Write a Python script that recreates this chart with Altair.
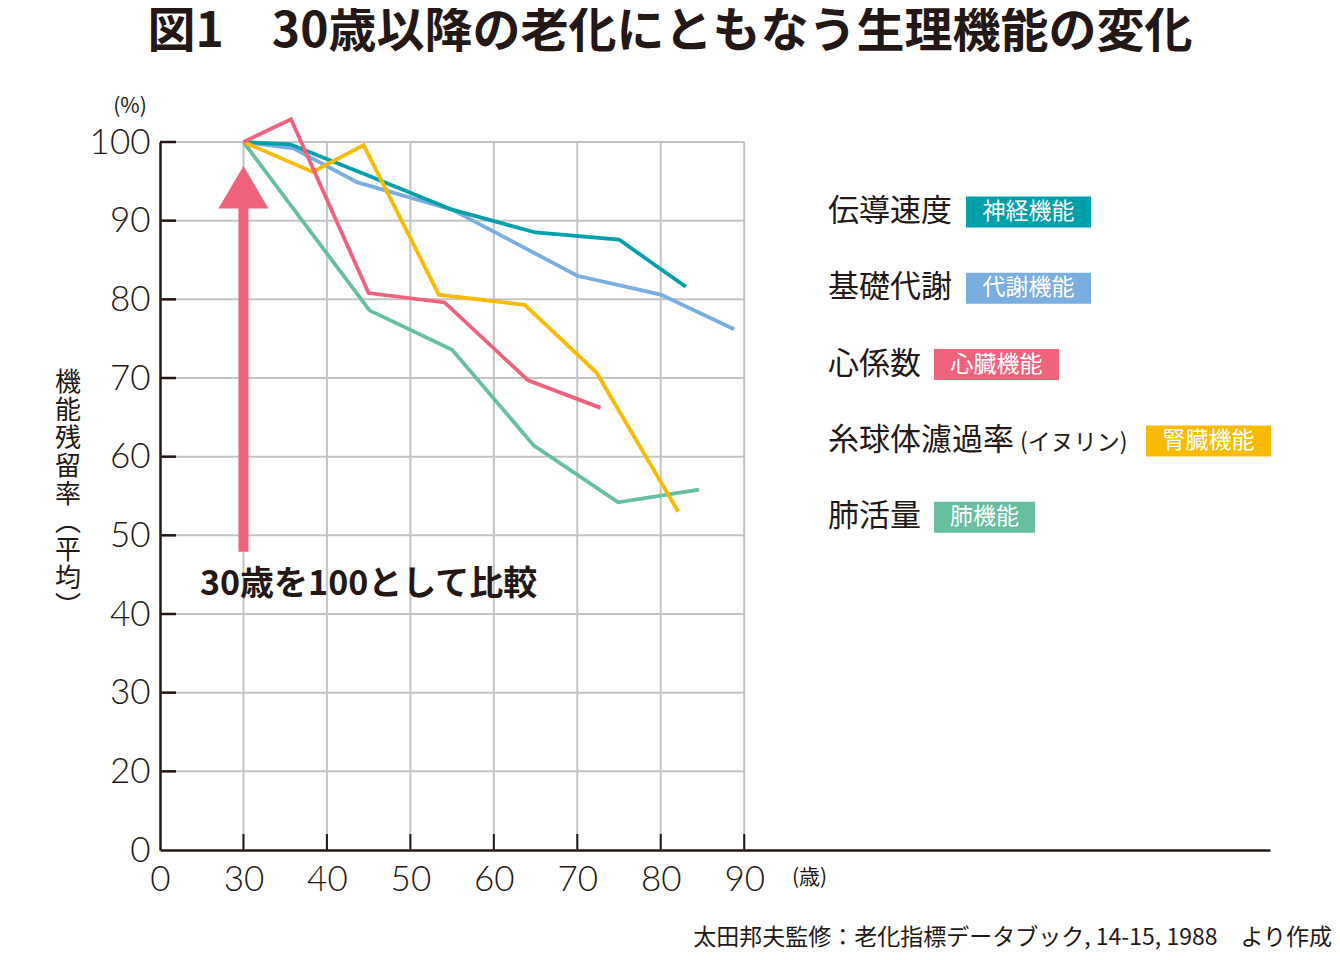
import altair as alt
import pandas as pd

# ---------------- data ----------------
title_text = "図1　30歳以降の老化にともなう生理機能の変化"
source_text = "太田邦夫監修：老化指標データブック, 14-15, 1988　より作成"
note_text = "30歳を100として比較"
y_title_chars = ["機", "能", "残", "留", "率", "︵", "平", "均", "︶"]

x_tick_values = [20, 30, 40, 50, 60, 70, 80, 90]   # 20 is shown as "0" (broken axis)
y_tick_values = [10, 20, 30, 40, 50, 60, 70, 80, 90, 100]  # 10 is shown as "0"
grid_x = [30, 40, 50, 60, 70, 80, 90]
grid_y = [20, 30, 40, 50, 60, 70, 80, 90, 100]

teal_age = [30, 35.6, 45, 55, 65, 75, 83]
teal_val = [100, 99.7, 95.7, 91.4, 88.5, 87.6, 81.6]
blue_age = [30, 36.0, 43.6, 55, 70, 80, 88.8]
blue_val = [100, 99.2, 94.9, 91.4, 83.0, 80.6, 76.2]
pink_age = [30, 35.7, 45.0, 54.1, 64.1, 72.8]
pink_val = [100, 102.9, 80.8, 79.6, 69.7, 66.2]
yellow_age = [30, 38.3, 44.4, 53.4, 63.7, 72.3, 82.1]
yellow_val = [100, 96.2, 99.6, 80.6, 79.3, 70.7, 53.0]
green_age = [30, 45.1, 55.0, 64.8, 74.9, 84.6]
green_val = [100, 78.6, 73.6, 61.4, 54.2, 55.8]

legend_labels = ["伝導速度", "基礎代謝", "心係数", "糸球体濾過率", "肺活量"]
legend_notes = ["", "", "", "(イヌリン)", ""]
legend_tags = ["神経機能", "代謝機能", "心臓機能", "腎臓機能", "肺機能"]

arrow_age = [30]
arrow_from = [47.9]
arrow_base = [91.6]
arrow_tip = [96.9]

# ---------------- styles ----------------
DARK = "#231815"
GRID = "#c4c4c4"
TEAL, BLUE, PINK, YELLOW, GREEN = "#00a0aa", "#7aade0", "#f0627c", "#f8bb00", "#66bf9f"
legend_colors = [TEAL, BLUE, PINK, YELLOW, GREEN]
JP = "Noto Sans CJK JP"
NUM = "Lato"

W, H = 1110, 708
xs = alt.Scale(domain=[20, 153], nice=False, zero=False)
ys = alt.Scale(domain=[10, 100], nice=False, zero=False)

# ---------------- grid ----------------
hgrid = alt.Chart(pd.DataFrame({"v": grid_y})).mark_rule(color=GRID, strokeWidth=2).encode(
    y=alt.Y("v:Q", scale=ys), x=alt.datum(20, scale=xs), x2=alt.datum(90))
vgrid = alt.Chart(pd.DataFrame({"a": grid_x})).mark_rule(color=GRID, strokeWidth=2).encode(
    x=alt.X("a:Q", scale=xs), y=alt.datum(10, scale=ys), y2=alt.datum(100))

# ---------------- base axes (invisible mark carrying axes) ----------------
axes = alt.Chart(pd.DataFrame({"a": [20], "v": [10]})).mark_point(opacity=0).encode(
    x=alt.X("a:Q", scale=xs, axis=alt.Axis(
        values=x_tick_values, labelExpr="datum.value == 20 ? '0' : datum.label",
        ticks=False, grid=False, domainColor=DARK, domainWidth=2.5, labelColor=DARK,
        labelFont=NUM, labelFontWeight=300, labelFontSize=35, labelPadding=12,
        labelFlush=False, labelOverlap=False, title=None)),
    y=alt.Y("v:Q", scale=ys, axis=alt.Axis(
        values=y_tick_values, labelExpr="datum.value == 10 ? '0' : datum.label",
        ticks=False, grid=False, domainColor=DARK, domainWidth=2.5, labelColor=DARK,
        labelFont=NUM, labelFontWeight=300, labelFontSize=35, labelPadding=10,
        labelFlush=False, labelOverlap=False, title=None)),
)

# inward ticks
yticks = alt.Chart(pd.DataFrame({"v": grid_y})).mark_rule(color=DARK, strokeWidth=2.5).encode(
    y=alt.Y("v:Q", scale=ys), x=alt.value(0), x2=alt.value(16))
xticks = alt.Chart(pd.DataFrame({"a": grid_x})).mark_rule(color=DARK, strokeWidth=2).encode(
    x=alt.X("a:Q", scale=xs), y=alt.value(H), y2=alt.value(H - 16))

# ---------------- series ----------------
def series(ages, vals, color):
    df = pd.DataFrame({"a": ages, "v": vals, "i": range(len(ages))})
    return alt.Chart(df).mark_line(color=color, strokeWidth=3.8, strokeJoin="miter").encode(
        x=alt.X("a:Q", scale=xs), y=alt.Y("v:Q", scale=ys), order="i:Q")

lines = [series(green_age, green_val, GREEN), series(blue_age, blue_val, BLUE),
         series(teal_age, teal_val, TEAL), series(yellow_age, yellow_val, YELLOW),
         series(pink_age, pink_val, PINK)]

# ---------------- arrow ----------------
adf = pd.DataFrame({"a": arrow_age, "y0": arrow_from, "y1": arrow_base,
                    "yc": [(b + t) / 2 for b, t in zip(arrow_base, arrow_tip)]})
shaft = alt.Chart(adf).mark_rule(color=PINK, strokeWidth=10).encode(
    x=alt.X("a:Q", scale=xs), y=alt.Y("y0:Q", scale=ys), y2="y1:Q")
head = alt.Chart(adf).mark_point(shape="M-1,0.85L1,0.85L0,-0.85Z", filled=True, size=2500,
                                 color=PINK, opacity=1, strokeWidth=0).encode(
    x=alt.X("a:Q", scale=xs), y=alt.Y("yc:Q", scale=ys))

# ---------------- texts ----------------
def label(text, x, y, size, align="left", weight="normal", font=JP, color=DARK, baseline="middle", **kw):
    return alt.Chart(pd.DataFrame({"t": [text]})).mark_text(
        align=align, baseline=baseline, fontSize=size, fontWeight=weight, font=font,
        color=color, **kw).encode(text="t:N", x=alt.value(x), y=alt.value(y))

title = label(title_text, 510, -109, 48, align="center", weight="bold")
note = label(note_text, 40, 443, 34, weight="bold")
pct = label("(%)", -30, -35, 21, align="center")
sai = label("(歳)", 632, 736, 21)
src = label(source_text, 1172, 796, 23, align="right")
ytitle = label("\n".join(y_title_chars), -92, 228, 26, align="center", baseline="top",
               lineBreak="\n", lineHeight=28)

# ---------------- legend ----------------
LFS, TFS, NFS = 32, 24, 24
rows = []
for i, (lab, nt, tag, col) in enumerate(zip(legend_labels, legend_notes, legend_tags, legend_colors)):
    yc = 70 + i * 76.3
    lx = 668
    note_x = lx + len(lab) * LFS
    note_w = (len(nt) - 2) * NFS + 20 if nt else 0
    bx0 = lx + len(lab) * LFS + note_w + 10
    bw = len(tag) * TFS + 29
    rows.append(dict(lab=lab, nt=nt, tag=tag, col=col, yc=yc, lx=lx, nx=note_x,
                     bx0=bx0, bx1=bx0 + bw, bxc=bx0 + bw / 2, by0=yc - 15.5, by1=yc + 15.5))
ldf = pd.DataFrame(rows)
cscale = alt.Scale(domain=legend_tags, range=legend_colors)
boxes = alt.Chart(ldf).mark_rect().encode(
    x=alt.X("bx0:Q", scale=None), x2="bx1:Q", y=alt.Y("by0:Q", scale=None), y2="by1:Q",
    color=alt.Color("tag:N", scale=cscale, legend=None))
ltext = alt.Chart(ldf).mark_text(align="left", baseline="middle", font=JP, fontSize=LFS - 1,
                                 color=DARK).encode(
    x=alt.X("lx:Q", scale=None), y=alt.Y("yc:Q", scale=None), text="lab:N")
ntext = alt.Chart(ldf[ldf.nt != ""]).mark_text(align="left", baseline="middle", font=JP,
                                               fontSize=NFS - 1, color=DARK, dy=2).encode(
    x=alt.X("nx:Q", scale=None), y=alt.Y("yc:Q", scale=None), text="nt:N")
ttext = alt.Chart(ldf).mark_text(align="center", baseline="middle", font=JP, fontSize=TFS - 1,
                                 color="white").encode(
    x=alt.X("bxc:Q", scale=None), y=alt.Y("yc:Q", scale=None), text="tag:N")

chart = alt.layer(
    hgrid, vgrid, axes, *lines, yticks, xticks, shaft, head,
    title, note, pct, sai, src, ytitle, boxes, ltext, ntext, ttext
).properties(
    width=W, height=H, background="white",
    autosize=alt.AutoSizeParams(type="none"),
    padding={"left": 152, "top": 134, "right": 62, "bottom": 102},
).configure_view(stroke=None)

chart.save("out.html", embed_options={"renderer": "svg", "actions": False})
